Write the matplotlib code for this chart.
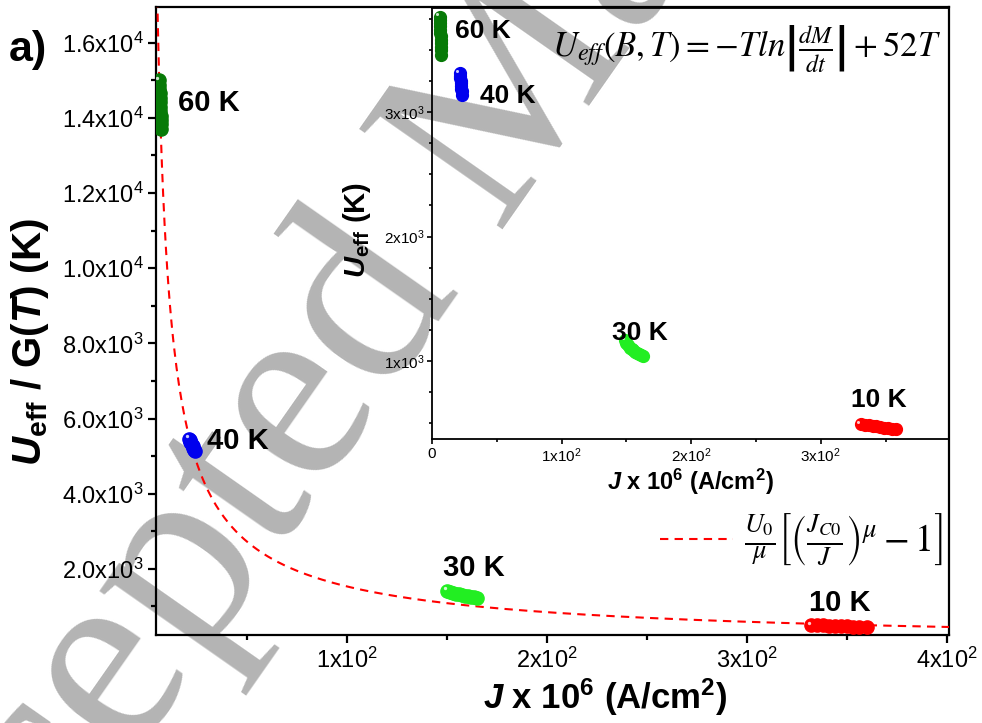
import matplotlib
matplotlib.use('Agg')
import numpy as np
import matplotlib.pyplot as plt
import matplotlib.transforms as mtrans

plt.rcParams['font.family'] = ['Liberation Sans', 'DejaVu Sans']
plt.rcParams['mathtext.fontset'] = 'custom'
plt.rcParams['mathtext.rm'] = 'Liberation Sans'
plt.rcParams['mathtext.it'] = 'Liberation Sans:italic'
plt.rcParams['mathtext.bf'] = 'Liberation Sans:bold'
plt.rcParams['mathtext.bfit'] = 'Liberation Sans:italic:bold'

# ---------------- data ----------------
labels = ['60 K', '40 K', '30 K', '10 K']
colors = ['#077a07', '#0000ee', '#22ee22', '#ff0000']

# main panel: J x 1e6 (A/cm2) vs Ueff/G(T) (K)
J60 = [6.0, 6.1, 6.2, 6.3, 6.4, 6.5, 6.6, 6.7, 6.8, 6.9, 7.0, 7.2]
UG60 = [15000, 14880, 14770, 14650, 14540, 14420, 14300, 14190, 14060, 13950, 13830, 13700]
J40 = [21.0, 21.3, 21.7, 22.0, 22.4, 22.8, 23.2, 23.6, 24.0]
UG40 = [5460, 5420, 5380, 5340, 5300, 5260, 5210, 5170, 5130]
J30 = [150, 151.5, 153, 154.5, 156, 157.5, 159, 160.5, 162, 163.5, 165]
UG30 = [1420, 1390, 1365, 1340, 1320, 1300, 1285, 1270, 1255, 1245, 1235]
J10 = [332, 335, 338, 341, 344, 347, 350, 353, 356, 360]
UG10 = [506, 500, 494, 488, 482, 477, 471, 465, 459, 452]

# inset: J x 1e6 (A/cm2) vs Ueff (K)
Ji60 = [6.0, 6.1, 6.2, 6.3, 6.4, 6.5, 6.6, 6.7, 6.8, 6.9, 7.0, 7.2]
Ui60 = [3765, 3740, 3715, 3690, 3660, 3635, 3610, 3580, 3555, 3525, 3495, 3460]
Ji40 = [21.5, 21.7, 21.9, 22.1, 22.3, 22.5, 22.7, 22.9, 23.1]
Ui40 = [3310, 3290, 3270, 3250, 3230, 3210, 3185, 3165, 3140]
Ji30 = [149, 150, 151, 152.5, 154, 155.5, 157, 158.5, 160, 161.5, 163]
Ui30 = [1165, 1145, 1125, 1108, 1095, 1085, 1075, 1066, 1058, 1050, 1043]
Ji10 = [331, 334, 337, 340, 343, 346, 349, 352, 355, 358]
Ui10 = [494, 490, 486, 481, 476, 471, 466, 461, 457, 452]

# fit parameters of U0/mu[(Jc0/J)^mu - 1]
U0 = 61.0
mu = 0.8
Jc0 = 4520.0

main_xticks = [100, 200, 300, 400]
main_xticklabels = [r'1x10$^{\mathregular{2}}$', r'2x10$^{\mathregular{2}}$',
                    r'3x10$^{\mathregular{2}}$', r'4x10$^{\mathregular{2}}$']
main_yticks = [2000, 4000, 6000, 8000, 10000, 12000, 14000, 16000]
main_yticklabels = [r'2.0x10$^{\mathregular{3}}$', r'4.0x10$^{\mathregular{3}}$',
                    r'6.0x10$^{\mathregular{3}}$', r'8.0x10$^{\mathregular{3}}$',
                    r'1.0x10$^{\mathregular{4}}$', r'1.2x10$^{\mathregular{4}}$',
                    r'1.4x10$^{\mathregular{4}}$', r'1.6x10$^{\mathregular{4}}$']
inset_xticks = [0, 100, 200, 300]
inset_xticklabels = ['0', r'1x10$^{\mathregular{2}}$', r'2x10$^{\mathregular{2}}$',
                     r'3x10$^{\mathregular{2}}$']
inset_yticks = [1000, 2000, 3000]
inset_yticklabels = [r'1x10$^{\mathregular{3}}$', r'2x10$^{\mathregular{3}}$',
                     r'3x10$^{\mathregular{3}}$']

main_series = [(J60, UG60), (J40, UG40), (J30, UG30), (J10, UG10)]
inset_series = [(Ji60, Ui60), (Ji40, Ui40), (Ji30, Ui30), (Ji10, Ui10)]
main_label_pos = [(15.5, 14400), (30, 5400), (148, 2020), (331, 1090)]
inset_label_pos = [(17.5, 3650), (37, 3130), (139, 1225), (323, 690)]

# ---------------- figure ----------------
fig = plt.figure(figsize=(9.82, 7.23), dpi=100)
fig.patch.set_facecolor('white')

# watermark
fig.text(-0.119, -0.541, 'Accepted Manuscript', fontsize=192, color='#b4b4b4',
         family='Liberation Serif', rotation=55, rotation_mode='anchor',
         ha='left', va='baseline', zorder=-10)

ax = fig.add_axes([156/982, 1-635/723, (949-156)/982, (635-7)/723])
ax.set_facecolor('none')
ax.set_xlim(4.5, 401)
ax.set_ylim(240, 16950)

Jfit = np.linspace(4.8, 401, 600)
Ufit = U0/mu*((Jc0/Jfit)**mu - 1)
fit_label = r'$\frac{U_0}{\mu}\left[\left(\frac{J_{C0}}{J}\right)^{\mu}-1\right]$'
ln, = ax.plot(Jfit, Ufit, color='#ff0000', lw=1.5, dashes=(4, 3), zorder=3, label=fit_label)

def draw_series(a, series, ms, hl):
    for (xs, ys), c in zip(series, colors):
        a.plot(xs[::-1], ys[::-1], 'o', color=c, mec=c, ms=ms, zorder=4)
        tr = mtrans.offset_copy(a.transData, fig=fig, x=-1.8, y=1.8, units='points')
        a.plot(xs[:1], ys[:1], 'o', color='white', mec='none', ms=hl, alpha=0.8,
               transform=tr, zorder=5)

draw_series(ax, main_series, 9.5, 2.4)
for (x, y), t in zip(main_label_pos, labels):
    ax.text(x, y, t, fontsize=21, fontweight='bold', ha='left', va='center', zorder=6)

ax.set_xticks(main_xticks)
ax.set_xticklabels(main_xticklabels)
ax.set_yticks(main_yticks)
ax.set_yticklabels(main_yticklabels)
ax.set_xticks([50, 150, 250, 350], minor=True)
ax.set_yticks([1000, 3000, 5000, 7000, 9000, 11000, 13000, 15000], minor=True)
ax.tick_params(which='major', direction='out', length=6, width=1.6, labelsize=17, pad=3)
ax.tick_params(which='minor', direction='out', length=3.5, width=1.6)
for s in ax.spines.values():
    s.set_linewidth(1.6)
ax.set_xlabel(r'$\mathbfit{J}$ x 10$^{\mathbf{6}}$ (A/cm$^{\mathbf{2}}$)', fontsize=25,
              fontweight='bold')
ax.xaxis.set_label_coords((605-156)/793, -(718-635)/628)
ax.xaxis.label.set_va('bottom')
ax.set_ylabel(r'$\mathbfit{U}_{\mathbf{eff}}$ / G($\mathbfit{T}$) (K)', fontsize=29,
              fontweight='bold')
ax.yaxis.set_label_coords(-(156-51)/793, (635-342)/628)

leg = ax.legend(handles=[ln], loc='center right', bbox_to_anchor=(0.992, 0.151),
                frameon=False, fontsize=27, handlelength=1.95, handletextpad=0.28,
                borderpad=0, borderaxespad=0)
for t in leg.get_texts():
    t.set_math_fontfamily('stix')

fig.text(9/982, 1-61/723, 'a)', fontsize=31, fontweight='bold', ha='left', va='baseline')

# ---------------- inset ----------------
ai = fig.add_axes([432/982, 1-439/723, (949-432)/982, (439-8)/723])
ai.set_facecolor('none')
ai.set_xlim(0, 399)
ai.set_ylim(374, 3835)
draw_series(ai, inset_series, 8.5, 2.2)
for (x, y), t in zip(inset_label_pos, labels):
    ai.text(x, y, t, fontsize=19, fontweight='bold', ha='left', va='center', zorder=6)
ai.set_xticks(inset_xticks)
ai.set_xticklabels(inset_xticklabels)
ai.set_yticks(inset_yticks)
ai.set_yticklabels(inset_yticklabels)
ai.set_xticks([50, 150, 250, 350], minor=True)
ai.set_yticks([500, 750, 1250, 1500, 1750, 2250, 2500, 2750, 3250, 3500, 3750], minor=True)
ai.tick_params(which='major', direction='out', length=3.5, width=1.2, labelsize=11, pad=2)
ai.tick_params(which='minor', direction='out', length=2.5, width=1.2)
for s in ai.spines.values():
    s.set_linewidth(1.3)
ai.set_xlabel(r'$\mathbfit{J}$ x 10$^{\mathbf{6}}$ (A/cm$^{\mathbf{2}}$)', fontsize=17,
              fontweight='bold')
ai.xaxis.set_label_coords(0.5, -(497-439)/431)
ai.xaxis.label.set_va('bottom')
ai.set_ylabel(r'$\mathbfit{U}_{\mathbf{eff}}$ (K)', fontsize=21, fontweight='bold')
ai.yaxis.set_label_coords(-(432-373)/517, (439-230)/431)
ai.text(0.985, 0.905, r'$U_{eff}(B,T) = -Tln\left|\frac{dM}{dt}\right| + 52T$',
        transform=ai.transAxes, fontsize=25, ha='right', va='center', math_fontfamily='stix')

fig.savefig('out.png', dpi=100)
